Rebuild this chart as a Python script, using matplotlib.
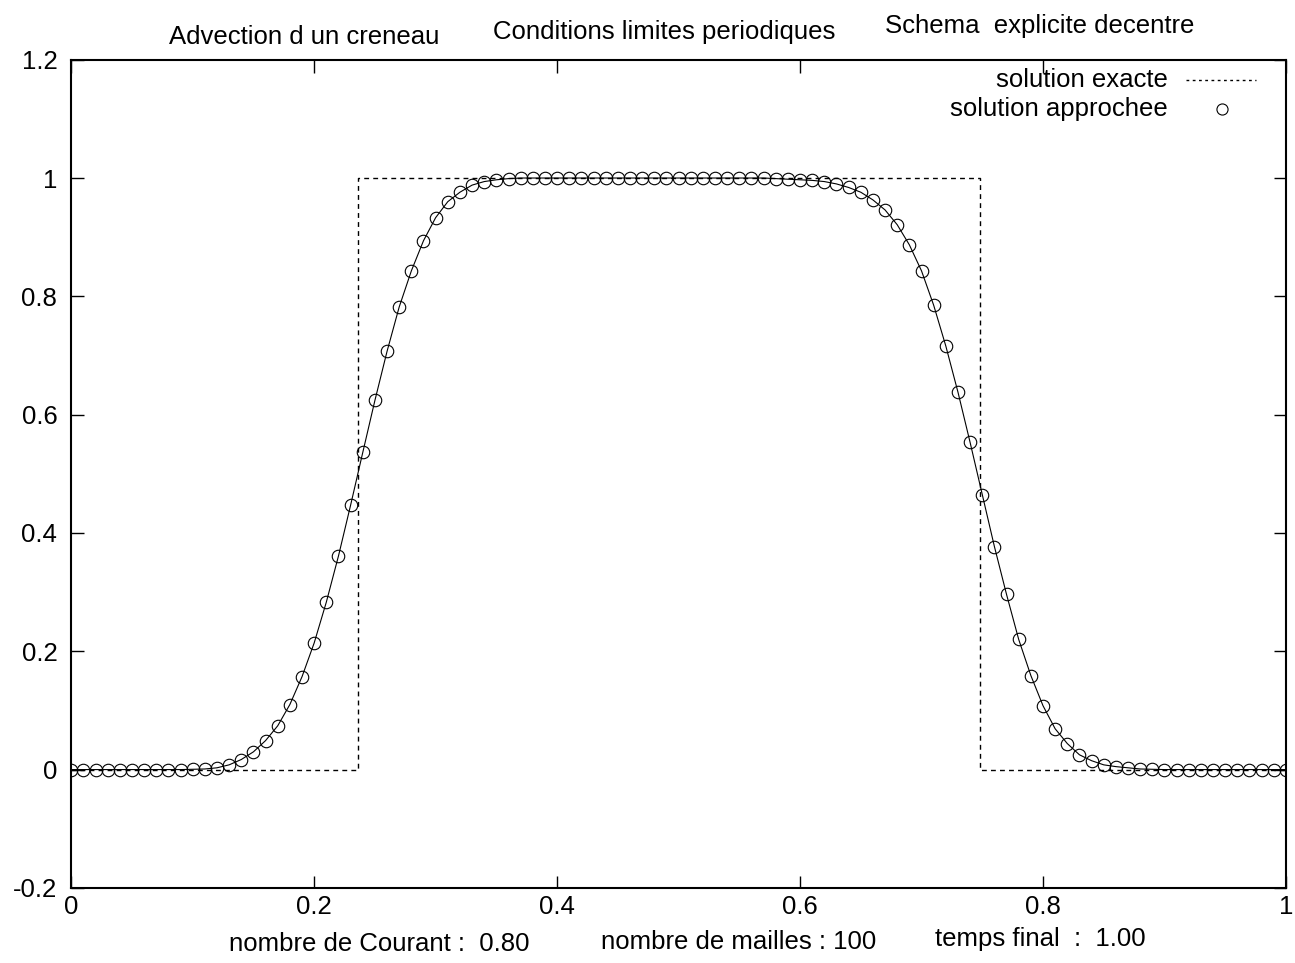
import matplotlib
matplotlib.use("Agg")
from matplotlib import pyplot as plt

plt.rcParams['font.family'] = ['Liberation Sans Narrow', 'Liberation Sans', 'DejaVu Sans']

# approximate solution: one value per mesh point, x = i/100
x_approx = [i / 100 for i in range(101)]
u_approx = [0.0, 0.0, 0.0, 0.0, 0.0, 0.0, 0.0, 0.0, 0.0, 0.0,
            0.0005, 0.001, 0.003, 0.008, 0.017, 0.030, 0.049, 0.074, 0.110, 0.157,
            0.214, 0.283, 0.361, 0.447, 0.536, 0.624, 0.707, 0.782, 0.843, 0.894,
            0.933, 0.960, 0.976, 0.988, 0.994, 0.997, 0.999, 1.0, 1.0, 1.0,
            1.0, 1.0, 1.0, 1.0, 1.0, 1.0, 1.0, 1.0, 1.0, 1.0,
            1.0, 1.0, 1.0, 1.0, 1.0, 1.0, 1.0, 1.0, 0.999, 0.998,
            0.997, 0.996, 0.994, 0.990, 0.984, 0.976, 0.963, 0.946, 0.921, 0.887,
            0.843, 0.785, 0.716, 0.638, 0.553, 0.465, 0.377, 0.296, 0.220, 0.159,
            0.108, 0.069, 0.044, 0.025, 0.015, 0.008, 0.005, 0.003, 0.001, 0.0005,
            0.0, 0.0, 0.0, 0.0, 0.0, 0.0, 0.0, 0.0, 0.0, 0.0,
            0.0]

# exact solution (creneau)
x_exact = [0.0, 0.236, 0.236, 0.748, 0.748, 1.0]
u_exact = [0.0, 0.0, 1.0, 1.0, 0.0, 0.0]

xticks = [0, 0.2, 0.4, 0.6, 0.8, 1]
xlabels = ['0', '0.2', '0.4', '0.6', '0.8', '1']
yticks = [-0.2, 0, 0.2, 0.4, 0.6, 0.8, 1, 1.2]
ylabels = ['-0.2', '0', '0.2', '0.4', '0.6', '0.8', '1', '1.2']

fig = plt.figure(figsize=(12.95, 9.63), dpi=100)
ax = fig.add_axes([0.055, 0.078, 0.938, 0.860])

ax.plot(x_exact, u_exact, color='black', lw=1.0, linestyle=(0, (3.5, 3)))
ax.plot(x_approx, u_approx, color='black', lw=0.8)
ax.plot(x_approx, u_approx, linestyle='none', marker='o', markersize=9,
        markerfacecolor='none', markeredgecolor='black', markeredgewidth=0.8)

ax.set_xlim(0, 1)
ax.set_ylim(-0.2, 1.2)
ax.set_xticks(xticks)
ax.set_xticklabels(xlabels)
ax.set_yticks(yticks)
ax.set_yticklabels(ylabels)
ax.tick_params(direction='in', length=9, width=1, top=True, right=True,
               labelsize=18.5, pad=10)
ax.tick_params(axis='x', pad=5)
for s in ax.spines.values():
    s.set_linewidth(1.5)

# legend, gnuplot style
ax.text(0.903, 0.975, 'solution exacte', transform=ax.transAxes,
        ha='right', va='center', fontsize=18.5)
ax.plot([0.918, 0.975], [0.975, 0.975], transform=ax.transAxes,
        color='black', lw=1.0, linestyle=(0, (2, 2.5)))
ax.text(0.903, 0.94, 'solution approchee', transform=ax.transAxes,
        ha='right', va='center', fontsize=18.5)
ax.plot([0.947], [0.94], transform=ax.transAxes, marker='o', markersize=8,
        markerfacecolor='none', markeredgecolor='black', markeredgewidth=0.8)

# titles and run parameters
fig.text(0.235, 0.962, 'Advection d un creneau', ha='center', va='center', fontsize=18.5)
fig.text(0.513, 0.967, 'Conditions limites periodiques', ha='center', va='center', fontsize=18.5)
fig.text(0.803, 0.973, 'Schema  explicite decentre', ha='center', va='center', fontsize=18.5)
fig.text(0.293, 0.020, 'nombre de Courant :  0.80', ha='center', va='center', fontsize=18.5)
fig.text(0.570, 0.022, 'nombre de mailles : 100', ha='center', va='center', fontsize=18.5)
fig.text(0.803, 0.025, 'temps final  :  1.00', ha='center', va='center', fontsize=18.5)

plt.savefig('out.png', dpi=100)
